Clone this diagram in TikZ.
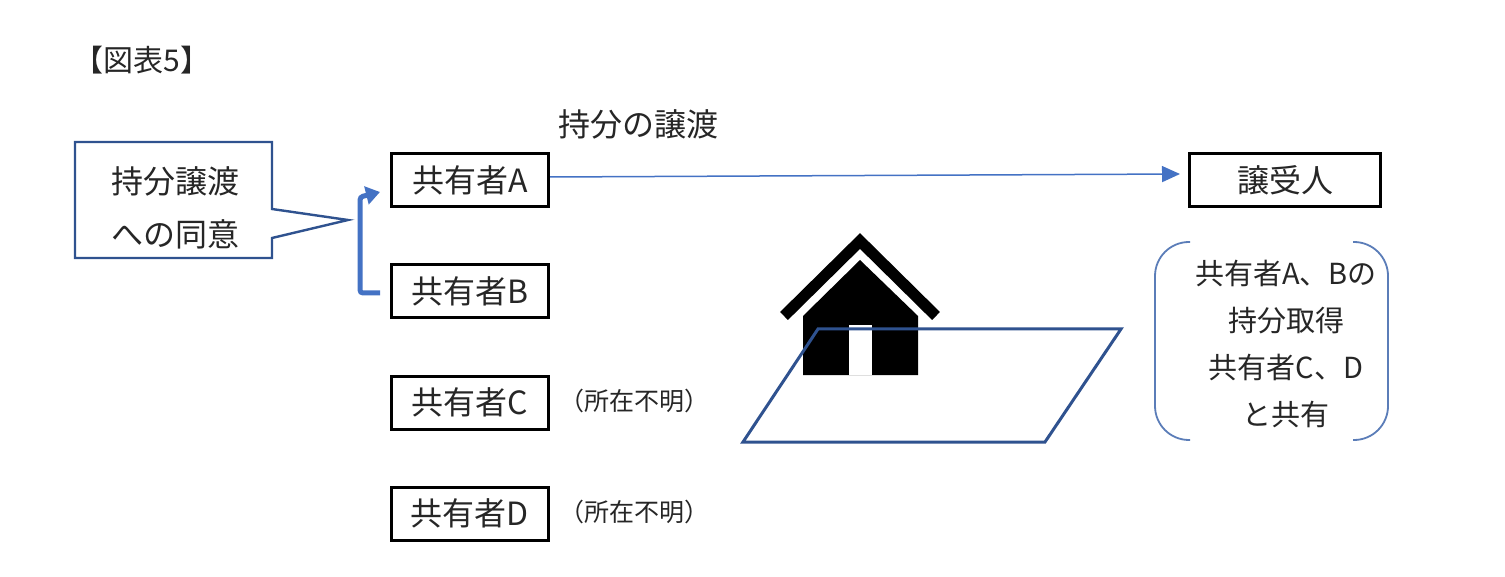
\documentclass[tikz,border=0pt]{standalone}
\usepackage{fontspec}
\setmainfont{Noto Sans CJK JP}
\usetikzlibrary{arrows.meta}
\definecolor{dblue}{HTML}{2F528F}
\definecolor{mblue}{HTML}{4472C4}
\definecolor{bgray}{HTML}{5B7DB8}
\definecolor{txt}{HTML}{262626}
\begin{document}
\begin{tikzpicture}[x=0.5pt,y=-0.5pt,
  owner/.style={draw=black, line width=1.5pt, minimum width=78.5pt, minimum height=26.5pt, inner sep=0pt, text=txt, font=\fontsize{16}{18}\selectfont},
  lbl/.style={text=txt, inner sep=0pt, font=\fontsize{16}{18}\selectfont},
  small/.style={text=txt, inner sep=0pt, font=\fontsize{12.5}{14}\selectfont},
  flow/.style={mblue, line width=0.75pt, -{Triangle[length=9pt,width=8pt]}},
  bracket/.style={mblue, line width=2.5pt, rounded corners=1.5pt, -{Triangle[length=7pt,width=9pt]}},
  callout/.style={dblue, line width=1.2pt, fill=white},
  pair/.style={bgray, line width=0.9pt, rounded corners=17pt}
]
\useasboundingbox (0,0) rectangle (1505,577);

% title
\node[lbl, font=\fontsize{15}{17}\selectfont] (title) at (142,60) {【図表5】};

% owners
\node[owner] (A) at (470,180) {共有者A};
\node[owner] (B) at (470,291) {共有者B};
\node[owner] (C) at (470,402.5) {共有者C};
\node[owner] (D) at (470,513.5) {共有者D};
\node[owner, minimum width=95.5pt] (R) at (1285,180) {譲受人};

\node[small] (uc) at (634,401) {（所在不明）};
\node[small] (ud) at (634,512) {（所在不明）};

% transfer arrow
\node[lbl] (tl) at (638,124) {持分の譲渡};
\draw[flow] ([yshift=1.5pt]A.east) -- ([yshift=3pt,xshift=-4pt]R.west);

% consent callout
\draw[callout] (75,142) -- (272,142) -- (272,209) -- (348,220) -- (272,238) -- (272,258) -- (75,258) -- cycle;
\node[lbl, align=center, font=\fontsize{16}{26.5}\selectfont] (consent) at (175,208) {持分譲渡\\への同意};

% bracket between A and B
\coordinate (bb) at (380,293);
\coordinate (bt) at (380,192);
\draw[bracket] (bb) -- (360,293) -- (360,197) -- (bt);

% house
\fill[black] (803,316) -- (860,260) -- (918,316) -- (918,375) -- (803,375) -- cycle;
\fill[white] (849,325) rectangle (872,375);
\draw[black, line width=5.6pt, miter limit=10] (784,316) -- (860,241) -- (936,316);

% land parcel
\draw[dblue, line width=1.5pt, line join=miter] (818,329) -- (1121,329) -- (1045,442) -- (743,442) -- cycle;

% bracket pair with result
\draw[pair] (1190,242) -- (1155,242) -- (1155,440) -- (1190,440);
\draw[pair] (1353,242) -- (1388,242) -- (1388,440) -- (1353,440);
\node[lbl, align=center, font=\fontsize{14.5}{23.5}\selectfont] (res) at (1286,344) {共有者A、Bの\\持分取得\\共有者C、D\\と共有};
\end{tikzpicture}
\end{document}
